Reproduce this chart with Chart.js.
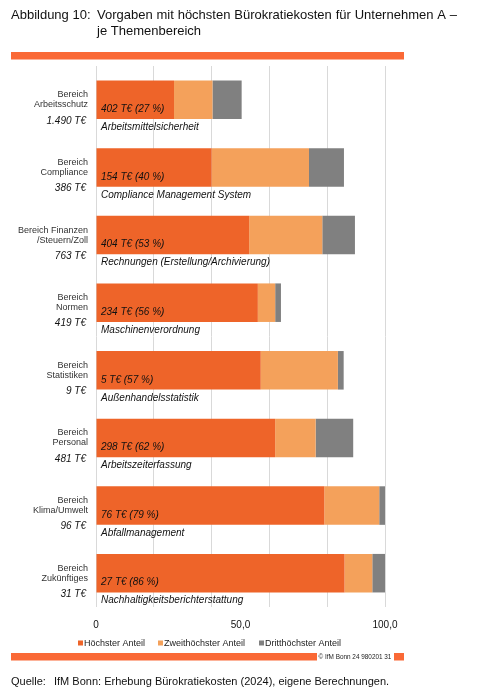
<!DOCTYPE html>
<html>
<head>
<meta charset="utf-8">
<script src="https://cdn.jsdelivr.net/npm/chart.js@4.4.1/dist/chart.umd.min.js"></script>
<style>
  html, body { margin: 0; padding: 0; background: #fff; }
  #wrap { width: 477px; height: 697px; position: relative; }
</style>
</head>
<body>
<div id="wrap"><canvas id="c" width="477" height="697"></canvas></div>
<script>
// ---- Data ----
const categories = [
  ["Bereich", "Arbeitsschutz"],
  ["Bereich", "Compliance"],
  ["Bereich Finanzen", "/Steuern/Zoll"],
  ["Bereich", "Normen"],
  ["Bereich", "Statistiken"],
  ["Bereich", "Personal"],
  ["Bereich", "Klima/Umwelt"],
  ["Bereich", "Zukünftiges"]
];
const totals = ["1.490 T€", "386 T€", "763 T€", "419 T€", "9 T€", "481 T€", "96 T€", "31 T€"];
const topValues = ["402 T€ (27 %)", "154 T€ (40 %)", "404 T€ (53 %)", "234 T€ (56 %)", "5 T€ (57 %)", "298 T€ (62 %)", "76 T€ (79 %)", "27 T€ (86 %)"];
const topNames = ["Arbeitsmittelsicherheit", "Compliance Management System", "Rechnungen (Erstellung/Archivierung)", "Maschinenverordnung", "Außenhandelsstatistik", "Arbeitszeiterfassung", "Abfallmanagement", "Nachhaltigkeitsberichterstattung"];
const seriesLabels = ["Höchster Anteil", "Zweithöchster Anteil", "Dritthöchster Anteil"];
const share1 = [27, 40, 53, 56, 57, 62, 79, 86];
const share2 = [13.3, 33.7, 25.3, 6, 26.7, 14, 19, 9.6];
const share3 = [10.1, 12.1, 11.3, 2, 2, 13, 2, 4.4];
const tickLabels = { 0: "0", 50: "50,0", 100: "100,0" };
const titleNumber = "Abbildung 10:";
const titleLine1 = "Vorgaben mit höchsten Bürokratiekosten für Unternehmen A –";
const titleLine2 = "je Themenbereich";
const sourceLabel = "Quelle:";
const sourceText = "IfM Bonn: Erhebung Bürokratiekosten (2024), eigene Berechnungen.";
const copyright = "© IfM Bonn 24 980201 31";

const colors = ["#EE6429", "#F4A15B", "#808080"];
const accent = "#FA6936";
const FONT = "'Liberation Sans', Arial, sans-serif";

const decor = {
  id: 'decor',
  afterDraw(chart) {
    const ctx = chart.ctx;
    const x = chart.scales.x, y = chart.scales.y;
    ctx.save();
    // Title
    ctx.fillStyle = "#111";
    ctx.textBaseline = "middle";
    ctx.textAlign = "left";
    ctx.font = "13px " + FONT;
    ctx.fillText(titleNumber, 11, 15.5);
    // justified first line
    const words = titleLine1.split(" ");
    const left = 97, right = 457;
    const wsum = words.reduce((s, w) => s + ctx.measureText(w).width, 0);
    const gap = (right - left - wsum) / (words.length - 1);
    let cx = left;
    words.forEach(w => { ctx.fillText(w, cx, 15.5); cx += ctx.measureText(w).width + gap; });
    ctx.fillText(titleLine2, 97, 31);
    // accent bar under title
    ctx.fillStyle = accent;
    ctx.fillRect(11, 52, 393, 7.5);

    // per-category texts
    categories.forEach((c, i) => {
      const yc = y.getPixelForValue(i);
      ctx.fillStyle = "#111";
      ctx.font = "italic 10px " + FONT;
      ctx.textAlign = "right";
      ctx.fillText(totals[i], 86, yc + 21);
      ctx.textAlign = "left";
      const x0 = x.getPixelForValue(0) + 5;
      ctx.fillText(topValues[i], x0, yc + 9.5);
      ctx.fillText(topNames[i], x0, yc + 27.5);
    });

    // legend
    ctx.font = "9px " + FONT;
    ctx.textAlign = "left";
    const legendX = [78, 158, 259];
    chart.data.datasets.forEach((ds, i) => {
      ctx.fillStyle = ds.backgroundColor;
      ctx.fillRect(legendX[i], 640.5, 5, 5);
      ctx.fillStyle = "#222";
      ctx.fillText(ds.label, legendX[i] + 6, 643.5);
    });

    // bottom bar + copyright
    ctx.fillStyle = accent;
    ctx.fillRect(11, 653, 306, 7.5);
    ctx.fillRect(394, 653, 10, 7.5);
    ctx.fillStyle = "#222";
    ctx.font = "6.4px " + FONT;
    ctx.fillText(copyright, 318.5, 657);

    // source
    ctx.fillStyle = "#111";
    ctx.font = "11px " + FONT;
    ctx.fillText(sourceLabel, 11, 682);
    ctx.fillText(sourceText, 54, 682);
    ctx.restore();
  }
};

new Chart(document.getElementById('c'), {
  type: 'bar',
  data: {
    labels: categories,
    datasets: [
      { label: seriesLabels[0], data: share1, backgroundColor: colors[0] },
      { label: seriesLabels[1], data: share2, backgroundColor: colors[1] },
      { label: seriesLabels[2], data: share3, backgroundColor: colors[2] }
    ]
  },
  options: {
    indexAxis: 'y',
    responsive: false,
    animation: false,
    devicePixelRatio: 1,
    datasets: { bar: { barPercentage: 0.57, categoryPercentage: 1.0, borderWidth: 0 } },
    layout: { padding: { top: 66, bottom: 60, left: 0, right: 92 } },
    plugins: { legend: { display: false }, tooltip: { enabled: false }, title: { display: false } },
    scales: {
      x: {
        stacked: true,
        min: 0, max: 100,
        afterFit(s) { s.height = 30; },
        border: { display: false },
        grid: {
          drawTicks: false,
          color: ctx => (ctx.tick && ctx.tick.value % 20 === 0) ? '#D9D9D9' : 'rgba(0,0,0,0)',
          lineWidth: 1
        },
        ticks: {
          stepSize: 10,
          autoSkip: false,
          maxRotation: 0,
          padding: 12,
          color: '#111',
          font: { family: FONT, size: 10 },
          callback: v => (v in tickLabels) ? tickLabels[v] : ''
        }
      },
      y: {
        stacked: true,
        afterFit(s) { s.width = 96; },
        border: { display: false },
        grid: { display: false, drawTicks: false },
        ticks: {
          padding: 8,
          color: '#333',
          font: { family: FONT, size: 9, lineHeight: 1.12 }
        }
      }
    }
  },
  plugins: [decor]
});
</script>
</body>
</html>
